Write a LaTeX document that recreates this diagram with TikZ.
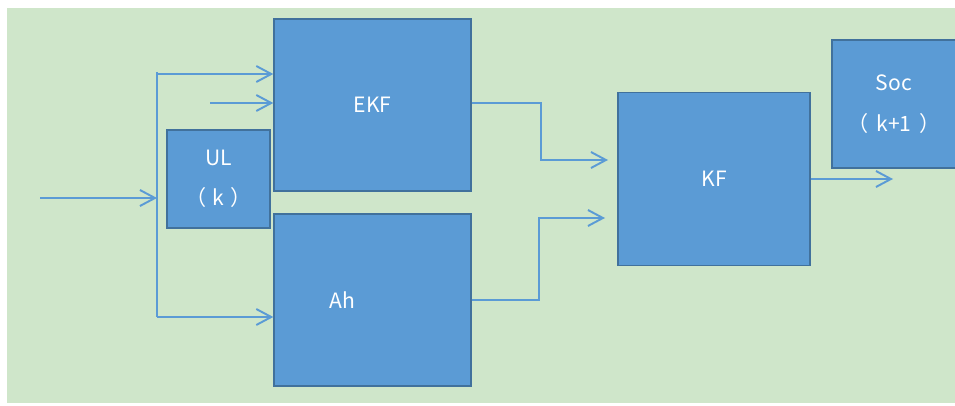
\documentclass[tikz,border=0pt]{standalone}
\usepackage{fontspec}
\setmainfont{Noto Sans CJK SC}
\usetikzlibrary{positioning, arrows.meta}

\definecolor{bggreen}{RGB}{207,230,202}
\definecolor{boxblue}{RGB}{91,155,213}
\definecolor{boxedge}{RGB}{65,113,156}

\begin{document}
\begin{tikzpicture} [x=0.02cm, y=-0.02cm,
    block/.style={draw=boxedge, fill=boxblue, line width=0.8pt, text=white,
      align=center, inner sep=0pt, font=\fontsize{12}{23}\selectfont},
    flow/.style={draw=boxblue, line width=1.1pt,
      -{Straight Barb[length=0.3cm, width=0.32cm, line width=1.1pt]}},
    wire/.style={draw=boxblue, line width=1.1pt}]
  \useasboundingbox (0,0) rectangle (955,405);
  \clip (0,0) rectangle (955,405);
  \fill[bggreen] (7,8) rectangle (955,403);

  % blocks
  \node[block, minimum width=3.94cm, minimum height=3.44cm] (ekf) at (372.5,105) {EKF};
  \node[block, minimum width=3.94cm, minimum height=3.44cm,
        label={[text=white, font=\fontsize{12}{23}\selectfont, xshift=-0.6cm]center:Ah}] (ah) at (372.5,300) {};
  \node[block, minimum width=2.06cm, minimum height=1.96cm] (ul) at (218.5,179) {UL\\（\hspace{3.5pt}k\hspace{3.5pt}）};
  \node[block, minimum width=3.84cm, minimum height=3.46cm] (kf) at (714,179) {KF};
  \node[block, minimum width=2.48cm, minimum height=2.56cm] (soc) at (894,104) {Soc\\（\hspace{4.5pt}k+1\hspace{4.5pt}）};

  % free ends
  \coordinate (in) at (40,198);
  \coordinate (top) at (157,72);
  \coordinate (bot) at (157,317);
  \coordinate (mid) at (210,103);
  \coordinate (kfa) at (608,160);
  \coordinate (kfb) at (605,218);
  \coordinate (out) at (893,179);

  \draw[flow] (in) -- (in -| top);
  \draw[wire] (top) -- (bot);
  \draw[flow] ([yshift=-0.04cm]top) -- ([yshift=-0.04cm]top -| ekf.west);
  \draw[flow] (mid) -- (mid -| ekf.west);
  \draw[flow] (bot) -- (bot -| ah.west);

  \draw[flow] ([yshift=0.04cm]ekf.east) -- ++(69,0) |- (kfa);
  \draw[flow] (ah.east) -- ++(67,0) |- (kfb);
  \draw[flow] (kf.east) -- (out);
\end{tikzpicture}
\end{document}
